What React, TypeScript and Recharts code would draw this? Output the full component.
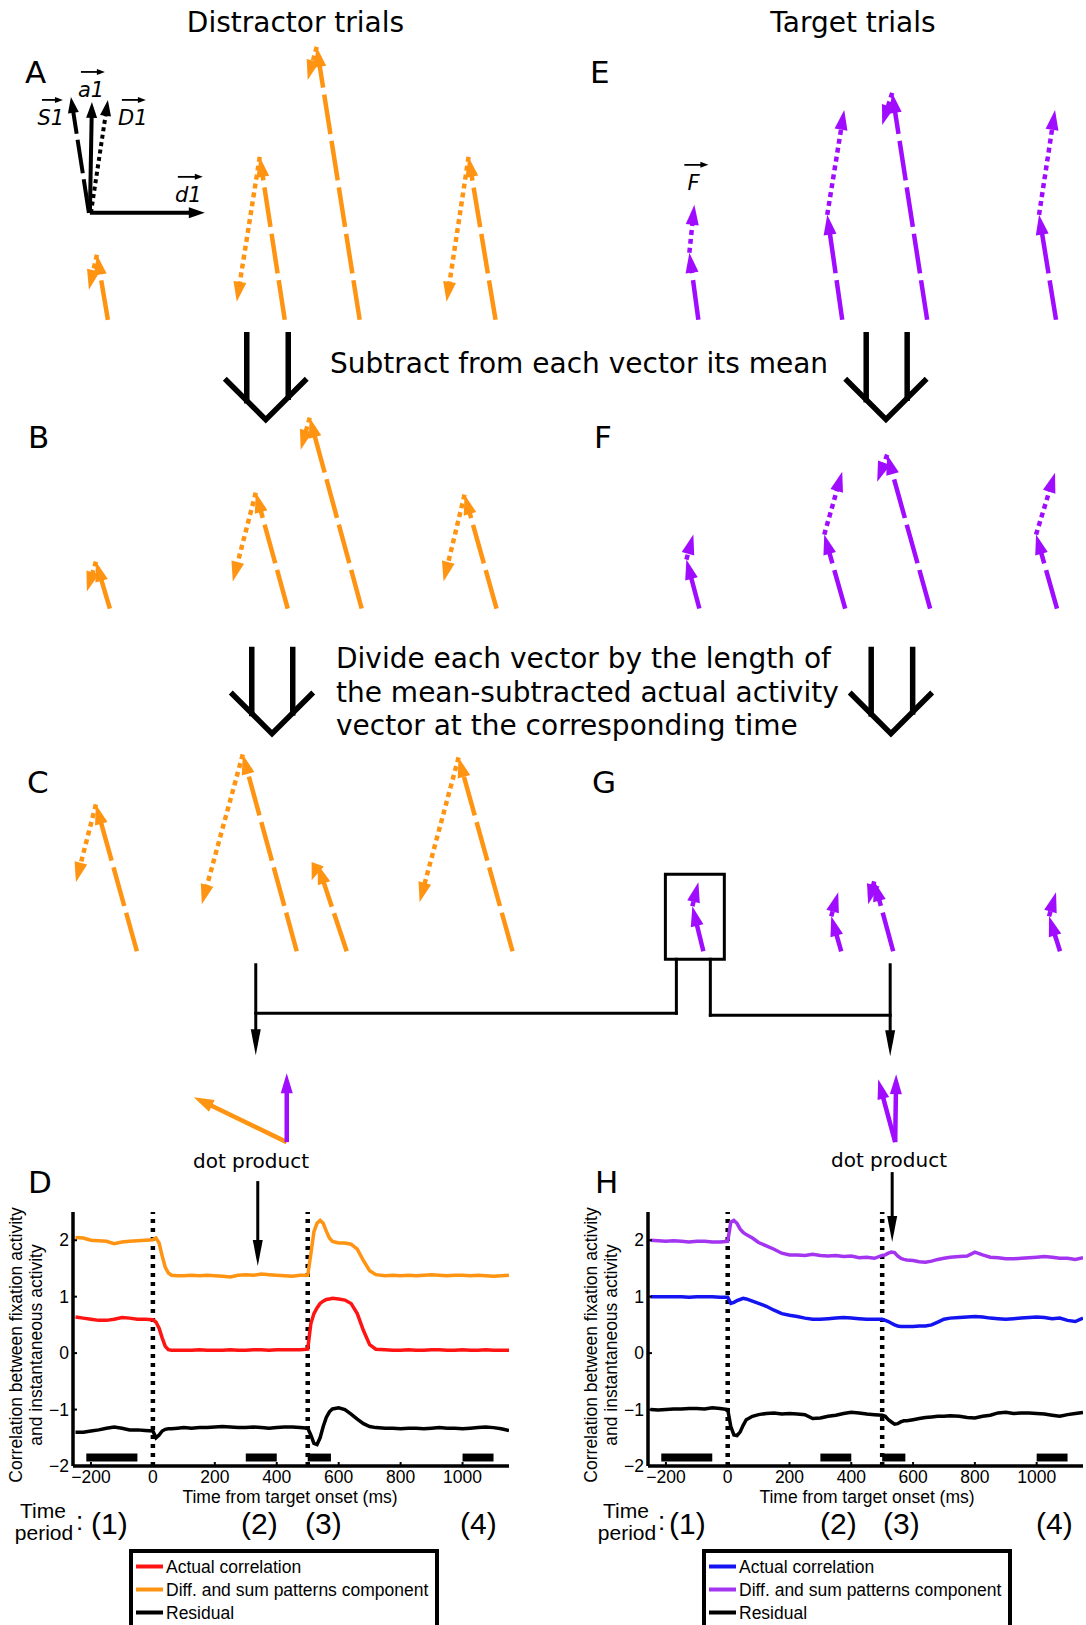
import React from 'react'
import { ComposedChart, LineChart, Line, XAxis, YAxis, ReferenceLine, ReferenceArea } from 'recharts'

const ORANGE = '#FF9412'
const PURPLE = '#A00CFF'
const LINE_PURPLE = '#A334F0'
const RED = '#FF1414'
const BLUE = '#1414F0'
const DIAGRAM_FONT = "'DejaVu Sans', Verdana, sans-serif"
const CHART_FONT = "'Liberation Sans', Arial, sans-serif"

// ---- vector diagram (A-C distractor, E-G target); [tailX, tailY, tipX, tipY], y grows downward
type Seg = [number, number, number, number]

const distractorSumVectors: Seg[] = [
  [107, 320, 96, 255], [284, 320, 259, 157], [359, 320, 316, 47], [495, 320, 468, 157],
  [109, 609, 95, 562], [287, 609, 255, 493], [361, 609, 309, 418], [496, 609, 464, 495],
  [136, 952, 95, 805], [296, 952, 242, 755], [346, 952, 317, 865], [512, 952, 458, 758],
]
const distractorDiffVectors: Seg[] = [
  [96, 255, 88, 290], [259, 157, 236, 302], [316, 47, 307, 80], [468, 157, 446, 302],
  [95, 562, 86, 592], [255, 493, 232, 582], [309, 418, 300, 450], [464, 495, 443, 582],
  [95, 805, 75, 883], [242, 755, 201, 905], [317, 865, 311, 881], [458, 758, 419, 903],
]
const targetSumVectors: Seg[] = [
  [698, 320, 689, 253], [842, 320, 827, 215], [927, 320, 892, 93], [1056, 320, 1039, 215],
  [699, 609, 686, 560], [845, 609, 824, 535], [930, 609, 887, 455], [1057, 609, 1036, 535],
  [703, 952, 692, 907], [841, 952, 831, 917], [893, 952, 874, 882], [1060, 952, 1049, 917],
]
const targetDiffVectors: Seg[] = [
  [689, 253, 694, 205], [827, 215, 844, 110], [892, 93, 882, 125], [1039, 215, 1055, 110],
  [686, 560, 693, 535], [824, 535, 842, 472], [887, 455, 877, 482], [1036, 535, 1055, 473],
  [692, 907, 698, 883], [831, 917, 838, 893], [874, 882, 868, 905], [1049, 917, 1056, 893],
]

// basis vectors of panel A: a1, d1 (solid), S1 (dashed), D1 (dotted)
const basisSolid: Seg[] = [[89, 213, 91, 102], [89, 213, 204, 213]]
const basisSum: Seg[] = [[88, 213, 70, 97]]
const basisDiff: Seg[] = [[90, 213, 107, 100]]
// little arrows over the vector names S1, a1, D1, d1, F
const nameArrows: Seg[] = [[41, 100, 62, 100], [80, 72, 104, 72], [121, 100, 145, 100], [177, 177, 202, 177], [684, 165, 708, 165]]

// dot product inputs
const dotOrange: Seg[] = [[286, 1143, 193, 1098]]
const dotPurple: Seg[] = [[286, 1143, 286, 1074], [895, 1143, 896, 1075], [895, 1143, 878, 1080]]

// connector from the boxed target vector down to both dot products
const connectorLines: Seg[] = [
  [255, 1014, 676, 1014], [676, 1014, 676, 960], [710, 960, 710, 1016], [710, 1016, 890, 1016],
]
const connectorArrows: Seg[] = [[255, 964, 255, 1056], [890, 964, 890, 1057], [257, 1182, 257, 1267], [892, 1173, 892, 1243]]
const boxedVector = { x1: 665, x2: 724, y1: 875, y2: 960 }

// hollow step arrows: shaft x positions, shaft top, V arm left/right x and arm y
const stepArrows = [
  { shaft: [246, 287.5], top: 335, left: 224, right: 306, arm: 379 },
  { shaft: [866, 907], top: 335, left: 845, right: 926.5, arm: 379 },
  { shaft: [251, 292], top: 650, left: 230, right: 312.5, arm: 693 },
  { shaft: [871, 912.5], top: 650, left: 849.5, right: 932, arm: 693 },
]

// ---- correlation traces (D distractor, H target)
const timeMs = [
  -250, -225, -200, -175, -150, -125, -100, -75, -50, -25, 0,
  10, 20, 30, 40, 50, 60, 80,
  100, 125, 150, 175, 200, 225, 250, 275, 300, 325, 350, 375, 400, 425, 450, 475, 500,
  510, 520, 530, 540, 550, 560, 570, 580,
  600, 620, 640, 660, 680, 700, 720,
  750, 775, 800, 825, 850, 875, 900, 925, 950, 975, 1000, 1025, 1050, 1075, 1100, 1125, 1150,
]
const distractorSum = [
  2.05, 2.04, 2.0, 1.99, 1.98, 1.94, 1.97, 1.98, 1.99, 2.0, 2.01,
  2.04, 1.95, 1.72, 1.52, 1.42, 1.38, 1.37,
  1.37, 1.38, 1.37, 1.38, 1.37, 1.36, 1.35, 1.38, 1.39, 1.38, 1.4, 1.39, 1.38, 1.37, 1.36, 1.38, 1.38,
  1.75, 2.15, 2.3, 2.35, 2.3, 2.16, 2.04, 1.98,
  1.95, 1.95, 1.93, 1.84, 1.64, 1.46, 1.39,
  1.37, 1.38, 1.37, 1.38, 1.37, 1.38, 1.39, 1.38, 1.37, 1.38, 1.38, 1.37, 1.38, 1.37, 1.36, 1.37, 1.38,
]
const distractorActual = [
  0.64, 0.62, 0.6, 0.58, 0.58, 0.6, 0.63, 0.62, 0.6, 0.6, 0.59,
  0.55, 0.44, 0.27, 0.12, 0.06, 0.05, 0.05,
  0.05, 0.05, 0.06, 0.05, 0.05, 0.05, 0.06, 0.05, 0.05, 0.06, 0.06, 0.05, 0.06, 0.06, 0.06, 0.06, 0.07,
  0.52, 0.7, 0.8, 0.88, 0.92, 0.95, 0.96, 0.97,
  0.96, 0.94, 0.88, 0.7, 0.4, 0.15, 0.07,
  0.06, 0.05, 0.05, 0.06, 0.05, 0.05, 0.06, 0.06, 0.05, 0.05, 0.06, 0.05, 0.05, 0.06, 0.05, 0.05, 0.05,
]
const distractorResidual = [
  -1.4, -1.4, -1.38, -1.36, -1.33, -1.31, -1.33, -1.36, -1.36, -1.37, -1.38,
  -1.5, -1.45, -1.38, -1.35, -1.34, -1.34, -1.33,
  -1.32, -1.33, -1.32, -1.32, -1.31, -1.3, -1.31, -1.32, -1.32, -1.31, -1.32, -1.33, -1.32, -1.31, -1.31, -1.32, -1.33,
  -1.45, -1.6, -1.62, -1.5, -1.3, -1.14, -1.04, -0.99,
  -0.97, -1.0, -1.08, -1.17, -1.25, -1.3, -1.32,
  -1.33, -1.33, -1.34, -1.33, -1.33, -1.34, -1.33, -1.32, -1.33, -1.33, -1.34, -1.33, -1.32, -1.31, -1.32, -1.34, -1.37,
]
const targetSum = [
  2.0, 1.99, 1.98, 1.99, 1.98, 1.97, 1.98, 1.98, 1.97, 1.97, 1.98,
  2.32, 2.35, 2.3, 2.2, 2.14, 2.1, 2.04,
  1.96, 1.9, 1.84, 1.77, 1.74, 1.74, 1.73, 1.75, 1.73, 1.72, 1.73, 1.71, 1.72, 1.69, 1.7, 1.68, 1.73,
  1.74, 1.77, 1.79, 1.78, 1.72, 1.68, 1.66, 1.65,
  1.64, 1.62, 1.61, 1.63, 1.66, 1.68, 1.7,
  1.71, 1.72, 1.79, 1.74, 1.7, 1.69, 1.67, 1.67, 1.68, 1.69, 1.7, 1.71, 1.7, 1.68, 1.68, 1.66, 1.69,
]
const targetActual = [
  1.0, 1.0, 1.0, 1.0, 1.0, 0.99, 1.0, 1.0, 1.0, 0.99, 0.99,
  0.88, 0.9, 0.93, 0.95, 0.97, 0.96, 0.92,
  0.88, 0.83, 0.76, 0.7, 0.67, 0.65, 0.62, 0.6, 0.6, 0.61, 0.62, 0.63, 0.62, 0.61, 0.6, 0.6, 0.6,
  0.58, 0.56, 0.53, 0.5, 0.48, 0.47, 0.47, 0.47,
  0.47, 0.48, 0.48, 0.5, 0.55, 0.6, 0.62,
  0.63, 0.64, 0.65, 0.64, 0.62, 0.61, 0.6, 0.61, 0.62, 0.63, 0.64, 0.63, 0.61, 0.62, 0.58, 0.56, 0.62,
]
const targetResidual = [
  -1.0, -1.01, -1.0, -0.99, -0.99, -0.98, -0.98, -0.99, -0.97, -0.98, -1.0,
  -1.3, -1.45, -1.46, -1.4, -1.28, -1.18, -1.12,
  -1.09, -1.07, -1.06, -1.08, -1.07, -1.08, -1.09, -1.16, -1.15, -1.12, -1.1, -1.07, -1.05, -1.06, -1.08, -1.09, -1.1,
  -1.12, -1.18, -1.22, -1.26, -1.25, -1.22, -1.2, -1.2,
  -1.18, -1.16, -1.14, -1.13, -1.12, -1.12, -1.11,
  -1.12, -1.14, -1.15, -1.12, -1.1, -1.06, -1.05, -1.07, -1.06, -1.06, -1.07, -1.08, -1.1, -1.12, -1.09, -1.07, -1.05,
]
const eventTimes = [0, 500]
const periodBars = [[-215, -50], [300, 400], [500, 575], [1000, 1100]]
const xTicks = [-200, 0, 200, 400, 600, 800, 1000]
const yTicks = [-2, -1, 0, 1, 2]
const periodLabels = ['(1)', '(2)', '(3)', '(4)']

const legendNames = ['Actual correlation', 'Diff. and sum patterns component', 'Residual']

type ArrowStyle = { color: string; width: number; dash?: string; head: number; headW: number }

const arrowShape = (st: ArrowStyle) => (p: any) => {
  const { x1, y1, x2, y2 } = p
  const dx = x2 - x1
  const dy = y2 - y1
  const len = Math.hypot(dx, dy) || 1
  const ux = dx / len
  const uy = dy / len
  const h = Math.min(st.head, len)
  const bx = x2 - ux * h
  const by = y2 - uy * h
  const nx = (-uy * st.headW) / 2
  const ny = (ux * st.headW) / 2
  return (
    <g>
      {len > h + 1 && (
        <line x1={x1} y1={y1} x2={bx + ux * 2} y2={by + uy * 2} stroke={st.color} strokeWidth={st.width} strokeDasharray={st.dash} />
      )}
      <polygon points={`${x2},${y2} ${bx + nx},${by + ny} ${bx - nx},${by - ny}`} fill={st.color} />
    </g>
  )
}

const plainShape = (color: string, width: number) => (p: any) => (
  <line x1={p.x1} y1={p.y1} x2={p.x2} y2={p.y2} stroke={color} strokeWidth={width} strokeLinecap="square" />
)

// right-angled V drawn between the two arm tips
const chevronShape = (p: any) => {
  const mx = (p.x1 + p.x2) / 2
  const my = p.y1 + (p.x2 - p.x1) / 2
  return <polyline points={`${p.x1},${p.y1} ${mx},${my} ${p.x2},${p.y2}`} fill="none" stroke="#000" strokeWidth={5.5} strokeLinejoin="miter" />
}

const vectorLines = (segs: Seg[], shape: (p: any) => React.ReactElement, key: string) =>
  segs.map(([ax, ay, bx, by], i) => (
    <ReferenceLine key={`${key}-${i}`} segment={[{ x: ax, y: ay }, { x: bx, y: by }]} shape={shape} />
  ))

const sumStyle = (color: string): ArrowStyle => ({ color, width: 4.5, dash: '40 7', head: 20, headW: 13 })
const diffStyle = (color: string): ArrowStyle => ({ color, width: 4.5, dash: '5 4', head: 20, headW: 13 })

function VectorDiagram() {
  const shafts: Seg[] = []
  const arms: Seg[] = []
  stepArrows.forEach((a) => {
    shafts.push([a.shaft[0], a.top, a.shaft[0], a.arm + (a.shaft[0] - a.left)])
    shafts.push([a.shaft[1], a.top, a.shaft[1], a.arm + (a.right - a.shaft[1])])
    arms.push([a.left, a.arm, a.right, a.arm])
  })
  // every vector end point, so the chart has data to lay its axes over
  const endPoints = [...distractorSumVectors, ...distractorDiffVectors, ...targetSumVectors, ...targetDiffVectors].flatMap(
    ([ax, ay, bx, by]) => [{ x: ax, y: ay }, { x: bx, y: by }],
  )
  return (
    <ComposedChart width={1086} height={1300} data={endPoints} margin={{ top: 0, right: 0, bottom: 0, left: 0 }}>
      <XAxis dataKey="x" type="number" domain={[0, 1086]} allowDataOverflow height={1} axisLine={false} tickLine={false} tick={false} />
      <YAxis dataKey="y" type="number" domain={[0, 1300]} reversed allowDataOverflow width={1} axisLine={false} tickLine={false} tick={false} />
      {vectorLines(basisSolid, arrowShape({ color: '#000', width: 4, head: 16, headW: 11 }), 'bs')}
      {vectorLines(basisSum, arrowShape({ color: '#000', width: 4, dash: '34 6', head: 16, headW: 11 }), 'bS')}
      {vectorLines(basisDiff, arrowShape({ color: '#000', width: 4, dash: '4 3.5', head: 16, headW: 11 }), 'bD')}
      {vectorLines(nameArrows, arrowShape({ color: '#000', width: 1.8, head: 8, headW: 6 }), 'na')}
      {vectorLines(distractorSumVectors, arrowShape(sumStyle(ORANGE)), 'ds')}
      {vectorLines(distractorDiffVectors, arrowShape(diffStyle(ORANGE)), 'dd')}
      {vectorLines(targetSumVectors, arrowShape(sumStyle(PURPLE)), 'ts')}
      {vectorLines(targetDiffVectors, arrowShape(diffStyle(PURPLE)), 'td')}
      {vectorLines(shafts, plainShape('#000', 5.5), 'sh')}
      {vectorLines(arms, chevronShape, 'ch')}
      <ReferenceArea
        x1={boxedVector.x1}
        x2={boxedVector.x2}
        y1={boxedVector.y1}
        y2={boxedVector.y2}
        fill="none"
        fillOpacity={0}
        stroke="#000"
        strokeWidth={3}
      />
      {vectorLines(connectorLines, plainShape('#000', 3), 'cl')}
      {vectorLines(connectorArrows, arrowShape({ color: '#000', width: 3, head: 26, headW: 10 }), 'ca')}
      {vectorLines(dotOrange, arrowShape({ color: ORANGE, width: 4.5, head: 20, headW: 13 }), 'do')}
      {vectorLines(dotPurple, arrowShape({ color: PURPLE, width: 4.5, head: 20, headW: 12 }), 'dp')}
    </ComposedChart>
  )
}

const fmtTick = (v: number) => (v < 0 ? `\u2212${Math.abs(v)}` : String(v))

interface TraceProps {
  actual: number[]
  sum: number[]
  residual: number[]
  actualColor: string
  sumColor: string
  width: number
  marginLeft: number
  marginRight: number
}

function CorrelationChart({ actual, sum, residual, actualColor, sumColor, width, marginLeft, marginRight }: TraceProps) {
  const rows = timeMs.map((t, i) => ({ t, actual: actual[i], sum: sum[i], residual: residual[i] }))
  const tick = { fill: '#000', fontSize: 17.5, fontFamily: CHART_FONT }
  return (
    <LineChart width={width} height={330} data={rows} margin={{ top: 42, right: marginRight, bottom: 33, left: marginLeft - 1 }}>
      <XAxis
        dataKey="t"
        type="number"
        domain={[-258, 1150]}
        ticks={xTicks}
        interval={0}
        allowDataOverflow
        height={1}
        axisLine={{ stroke: '#000', strokeWidth: 3.5 }}
        tickLine={{ stroke: '#000', strokeWidth: 2 }}
        tickSize={-4}
        tickMargin={9}
        tick={tick}
        tickFormatter={fmtTick}
      />
      <YAxis
        type="number"
        domain={[-2, 2.5]}
        ticks={yTicks}
        interval={0}
        allowDataOverflow
        width={1}
        axisLine={{ stroke: '#000', strokeWidth: 3.5 }}
        tickLine={{ stroke: '#000', strokeWidth: 2 }}
        tickSize={-4}
        tickMargin={8}
        tick={tick}
        tickFormatter={fmtTick}
      />
      {periodBars.map(([a, b]) => (
        <ReferenceArea key={a} x1={a} x2={b} y1={-1.92} y2={-1.78} fill="#000" fillOpacity={1} stroke="none" />
      ))}
      {eventTimes.map((t) => (
        <ReferenceLine key={t} x={t} stroke="#000" strokeWidth={4.5} strokeDasharray="4 5" />
      ))}
      <Line type="linear" dataKey="sum" stroke={sumColor} strokeWidth={3.5} dot={false} isAnimationActive={false} />
      <Line type="linear" dataKey="actual" stroke={actualColor} strokeWidth={3.5} dot={false} isAnimationActive={false} />
      <Line type="linear" dataKey="residual" stroke="#000" strokeWidth={3.5} dot={false} isAnimationActive={false} />
    </LineChart>
  )
}

function ChartText({ x, axisCenter, yLabelX, periodX, colonX, legendX, colors }: {
  x: number
  axisCenter: number
  yLabelX: number
  periodX: number[]
  colonX: number
  legendX: number
  colors: string[]
}) {
  return (
    <g fontFamily={CHART_FONT} fill="#000">
      <text x={axisCenter} y={1503} fontSize={17.5} textAnchor="middle">Time from target onset (ms)</text>
      <text transform={`translate(${yLabelX},1345) rotate(-90)`} fontSize={17.5} textAnchor="middle">
        Correlation between fixation activity
      </text>
      <text transform={`translate(${yLabelX + 20},1345) rotate(-90)`} fontSize={17.5} textAnchor="middle">
        and instantaneous activity
      </text>
      <text x={x} y={1518} fontSize={21} textAnchor="middle">Time</text>
      <text x={x + 1} y={1540} fontSize={21} textAnchor="middle">period</text>
      <text x={colonX} y={1530} fontSize={26}>:</text>
      {periodLabels.map((p, i) => (
        <text key={p} x={periodX[i]} y={1534} fontSize={30}>{p}</text>
      ))}
      <rect x={legendX} y={1551} width={306} height={90} fill="#fff" stroke="#000" strokeWidth={4} />
      {legendNames.map((name, i) => (
        <g key={name}>
          <line x1={legendX + 5} x2={legendX + 32} y1={1566.5 + i * 23} y2={1566.5 + i * 23} stroke={colors[i]} strokeWidth={4} />
          <text x={legendX + 35} y={1572.5 + i * 23} fontSize={17.5}>{name}</text>
        </g>
      ))}
    </g>
  )
}

export default function App() {
  return (
    <div style={{ position: 'absolute', left: 0, top: 0, width: 1086, height: 1625, overflow: 'hidden', background: '#fff' }}>
      <div style={{ position: 'absolute', left: 0, top: 0 }}>
        <VectorDiagram />
      </div>
      <div style={{ position: 'absolute', left: 0, top: 1170 }}>
        <CorrelationChart
          actual={distractorActual}
          sum={distractorSum}
          residual={distractorResidual}
          actualColor={RED}
          sumColor={ORANGE}
          width={530}
          marginLeft={73}
          marginRight={21}
        />
      </div>
      <div style={{ position: 'absolute', left: 560, top: 1170 }}>
        <CorrelationChart
          actual={targetActual}
          sum={targetSum}
          residual={targetResidual}
          actualColor={BLUE}
          sumColor={LINE_PURPLE}
          width={526}
          marginLeft={88}
          marginRight={3}
        />
      </div>
      <svg width={1086} height={1625} style={{ position: 'absolute', left: 0, top: 0, pointerEvents: 'none' }}>
        <g fontFamily={DIAGRAM_FONT} fill="#000">
          <text x={295.5} y={32} fontSize={28} textAnchor="middle">Distractor trials</text>
          <text x={853} y={32} fontSize={28} textAnchor="middle">Target trials</text>
          <text x={330} y={373} fontSize={28}>Subtract from each vector its mean</text>
          <text x={336} y={668} fontSize={28}>Divide each vector by the length of</text>
          <text x={336} y={701.5} fontSize={28}>the mean-subtracted actual activity</text>
          <text x={336} y={735} fontSize={28}>vector at the corresponding time</text>
          <g fontSize={31}>
            <text x={25} y={83}>A</text>
            <text x={590} y={83}>E</text>
            <text x={28} y={448}>B</text>
            <text x={594} y={448}>F</text>
            <text x={27} y={793}>C</text>
            <text x={592} y={793}>G</text>
            <text x={28} y={1193}>D</text>
            <text x={595} y={1193}>H</text>
          </g>
          <g fontSize={21} fontStyle="italic">
            <text x={37.5} y={125}>S1</text>
            <text x={78} y={97}>a1</text>
            <text x={118} y={125}>D1</text>
            <text x={175} y={202}>d1</text>
            <text x={687.5} y={190}>F</text>
          </g>
          <text x={251} y={1168} fontSize={20} textAnchor="middle">dot product</text>
          <text x={889} y={1167} fontSize={20} textAnchor="middle">dot product</text>
        </g>
        <ChartText
          x={43}
          axisCenter={290}
          yLabelX={22}
          periodX={[91, 241, 305, 460]}
          colonX={76}
          legendX={131}
          colors={[RED, ORANGE, '#000']}
        />
        <ChartText
          x={626}
          axisCenter={867}
          yLabelX={597}
          periodX={[669, 820, 883, 1036]}
          colonX={658}
          legendX={704}
          colors={[BLUE, LINE_PURPLE, '#000']}
        />
      </svg>
    </div>
  )
}
